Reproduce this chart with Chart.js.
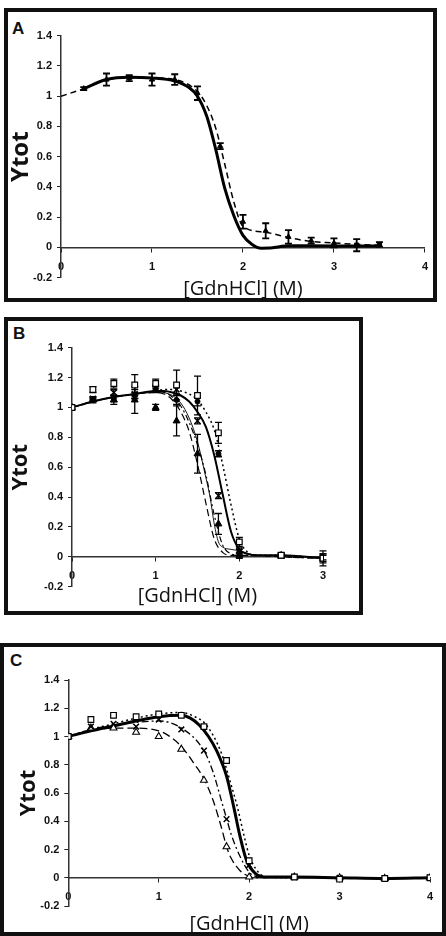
<!DOCTYPE html>
<html><head><meta charset="utf-8">
<script src="https://cdn.jsdelivr.net/npm/chart.js@4.4.1/dist/chart.umd.min.js"></script>
<style>
html,body{margin:0;padding:0;background:#fff;width:446px;height:936px;overflow:hidden;position:relative;}
.box{position:absolute;border:4px solid #111;box-sizing:border-box;}
canvas{position:absolute;}
.lbl{position:absolute;font:bold 17px "Liberation Sans",Arial,sans-serif;color:#111;line-height:19px;}
</style></head><body>
<div class="box" style="left:4px;top:8px;width:433px;height:294px"></div>
<div class="box" style="left:4px;top:317px;width:359px;height:298px"></div>
<div class="box" style="left:0px;top:643px;width:446px;height:293px"></div>
<div class="lbl" style="left:12px;top:19px">A</div>
<div class="lbl" style="left:13px;top:324px">B</div>
<div class="lbl" style="left:10px;top:651px">C</div>
<canvas id="cA" width="433" height="294" style="left:4px;top:8px"></canvas>
<canvas id="cB" width="359" height="298" style="left:4px;top:317px"></canvas>
<canvas id="cC" width="446" height="293" style="left:0px;top:643px"></canvas>
<script>
// ---------- tick labels & titles ----------
const yTickLabels = ['-0.2','0','0.2','0.4','0.6','0.8','1','1.2','1.4'];
const xTickLabelsA = ['0','1','2','3','4'];
const xTickLabelsB = ['0','1','2','3'];
const xTickLabelsC = ['0','1','2','3','4'];
const xTitle = '[GdnHCl] (M)';
const yTitle = 'Ytot';

// ---------- Panel A ----------
const aX   = [0.25,0.5,0.75,1,1.25,1.5,1.75,2,2.25,2.5,2.75,3,3.25,3.5];
const aY   = [1.05,1.11,1.12,1.11,1.11,1.02,0.67,0.17,0.11,0.07,0.045,0.03,0.015,0.02];
const aErr = [0.01,0.04,0.02,0.04,0.035,0.045,0.02,0.045,0.05,0.045,0.02,0.03,0.04,0.015];
const aSolidX = [0.25,0.5,0.75,1.0,1.25,1.4,1.5,1.6,1.7,1.8,1.9,2.0,2.1,2.2,2.3,2.4,2.5,3.0,3.5];
const aSolidY = [1.05,1.11,1.125,1.12,1.1,1.06,1.0,0.87,0.65,0.39,0.21,0.08,0.02,-0.005,-0.004,0.005,0.012,0.01,0.01];
const aDashX = [0,0.25,0.5,0.75,1.0,1.25,1.5,1.6,1.7,1.8,1.9,2.0,2.25,2.5,2.75,3.0,3.25,3.5];
const aDashY = [1.0,1.05,1.11,1.12,1.12,1.11,1.03,0.94,0.79,0.55,0.3,0.14,0.1,0.065,0.04,0.03,0.02,0.015];

// ---------- Panel B ----------
const bPtX   = [0,0.25,0.5,0.75,1,1.25,1.5,1.75,2,2.5,3];
const bSq    = [1.00,1.12,1.16,1.15,1.16,1.15,1.08,0.83,0.10,0.01,-0.01];
const bSqErr = [0,0.02,0.03,0.07,0.03,0.10,0.13,0.07,0.03,0.02,0.05];
const bCross = [1.00,1.06,1.10,1.09,1.13,1.12,0.91,0.41,0.04,0.01,0.00];
const bCrossErr = [0,0.01,0.02,0.03,0.02,0.03,0.02,0.02,0.02,0.01,0.02];
const bTri   = [1.00,1.05,1.05,1.05,1.00,0.91,0.69,0.22,0.01,0.01,-0.01];
const bTriErr = [0,0.02,0.03,0.09,0.02,0.10,0.13,0.07,0.02,0.01,0.03];
const bCirc  = [1.00,1.05,1.06,1.08,1.12,1.05,1.04,0.69,0.03,0.01,-0.01];
const bCircErr = [0,0.01,0.02,0.02,0.02,0.03,0.03,0.02,0.02,0.01,0.02];
const bCurveX  = [0,0.25,0.5,0.75,1.0,1.1,1.2,1.3,1.4,1.5,1.6,1.7,1.8,1.9,2.0,2.1,2.2,2.5,3.0];
const bSolid   = [1.0,1.04,1.07,1.09,1.11,1.11,1.10,1.08,1.04,0.97,0.87,0.68,0.42,0.17,0.05,0.02,0.01,0.01,-0.01];
const bDot     = [1.0,1.04,1.07,1.09,1.11,1.12,1.12,1.11,1.09,1.05,0.97,0.85,0.62,0.35,0.12,0.03,0.01,0.01,-0.01];
const bDashDot = [1.0,1.04,1.07,1.09,1.10,1.10,1.07,1.01,0.90,0.75,0.55,0.28,0.08,0.02,0.01,0.01,0.01,0.0,-0.01];
const bDash    = [1.0,1.04,1.07,1.09,1.10,1.09,1.05,0.97,0.84,0.62,0.36,0.12,0.03,0.01,0.01,0.01,0.01,0.0,-0.01];
const bThinX = [1.0,1.2,1.3,1.4,1.5,1.6,1.65,1.7,1.75,1.8,1.9,2.0,2.1,2.2];
const bThinY = [1.11,1.08,1.03,0.93,0.77,0.53,0.40,0.22,0.10,0.065,0.05,0.04,0.02,0.01];

// ---------- Panel C ----------
const cPtX   = [0,0.25,0.5,0.75,1,1.25,1.5,1.75,2,2.5,3,3.5,4];
const cSq    = [1.0,1.12,1.15,1.14,1.16,1.15,1.07,0.83,0.12,0.005,-0.01,-0.005,0.0];
const cCross = [1.0,1.07,1.09,1.07,1.12,1.05,0.9,0.415,0.09,0.005,0.0,-0.005,0.0];
const cTri   = [1.0,1.06,1.06,1.03,1.0,0.91,0.69,0.22,0.005,0.005,0.0,-0.005,0.0];
const cThickX = [0,0.25,0.5,0.75,1.0,1.25,1.35,1.45,1.55,1.64,1.75,1.83,1.9,1.97,2.07,2.2,2.5,3.0,3.5,4.0];
const cThickY = [1.0,1.04,1.075,1.11,1.14,1.15,1.13,1.08,1.0,0.9,0.72,0.5,0.29,0.125,0.03,0.005,0.005,0.0,-0.005,0.0];
const cDotX = [0,0.25,0.5,0.75,1.0,1.25,1.4,1.5,1.6,1.7,1.8,1.87,1.95,2.0,2.1,2.2,2.5];
const cDotY = [1.0,1.05,1.09,1.13,1.16,1.17,1.14,1.1,1.01,0.87,0.66,0.5,0.28,0.16,0.04,0.005,0.0];
const cDashDotX = [0,0.25,0.5,0.75,1.0,1.25,1.5,1.6,1.7,1.75,1.8,1.9,2.0,2.1,2.2];
const cDashDotY = [1.0,1.05,1.08,1.1,1.11,1.06,0.9,0.75,0.53,0.42,0.31,0.15,0.04,0.005,0.0];
const cDashX = [0,0.25,0.5,0.75,1.0,1.1,1.25,1.4,1.5,1.6,1.7,1.75,1.8,1.9,2.0,2.1];
const cDashY = [1.0,1.04,1.06,1.06,1.04,1.01,0.93,0.8,0.7,0.55,0.34,0.22,0.14,0.05,0.01,0.0];

// ---------- helpers ----------
function pts(xs, ys){ return xs.map((x,i)=>({x:x, y:ys[i]})); }
function curve(xs, ys, width, dash){
  return {data:pts(xs,ys), showLine:true, borderColor:'#000', borderWidth:width, borderDash:dash||[],
          pointRadius:0, pointHoverRadius:0, fill:false, cubicInterpolationMode:'monotone'};
}
function marks(xs, ys, errs, style, fill, r, bw, ew){
  return {data:pts(xs,ys), errors:errs, errWidth:ew||1.3, showLine:false, pointStyle:style, pointRadius:r,
          pointBackgroundColor:fill, pointBorderColor:'#000', pointBorderWidth:bw, borderColor:'#000', backgroundColor:fill};
}
const errorBars = {
  id:'errorBars',
  beforeDatasetsDraw(chart){
    const ctx = chart.ctx, xs = chart.scales.x, ys = chart.scales.y;
    ctx.save(); ctx.strokeStyle = '#000';
    chart.data.datasets.forEach(ds=>{
      if(!ds.errors) return;
      ctx.lineWidth = ds.errWidth;
      ds.data.forEach((p,j)=>{
        const e = ds.errors[j]; if(!e) return;
        const px = xs.getPixelForValue(p.x), t = ys.getPixelForValue(p.y+e), b = ys.getPixelForValue(p.y-e);
        ctx.beginPath();
        ctx.moveTo(px,t); ctx.lineTo(px,b);
        ctx.moveTo(px-3.5,t); ctx.lineTo(px+3.5,t);
        ctx.moveTo(px-3.5,b); ctx.lineTo(px+3.5,b);
        ctx.stroke();
      });
    });
    ctx.restore();
  }
};
const tickFont = {family:'"Liberation Sans", Arial, sans-serif', size:11, weight:'bold'};
function build(id, o){
  return new Chart(document.getElementById(id), {
    type:'scatter',
    data:{datasets:o.datasets},
    options:{
      responsive:false, animation:false, devicePixelRatio:1,
      layout:{padding:o.pad},
      plugins:{legend:{display:false}, tooltip:{enabled:false}},
      scales:{
        x:{type:'linear', min:0, max:o.xmax, position:{y:0},
           ticks:{stepSize:1, callback:(v,i)=>o.xLabels[i], font:tickFont, color:'#111', padding:o.xTickPad, maxRotation:0, autoSkip:false},
           grid:{drawOnChartArea:false, tickLength:4, color:'#222', lineWidth:1},
           border:{color:'#333', width:1.5},
           title:{display:true, text:xTitle, font:{family:'"Open Sans"', size:20, weight:'500', lineHeight:1.2}, color:'#111', padding:{top:o.xTitlePad, bottom:0}}},
        y:{type:'linear', min:-0.2, max:1.4, position:'left',
           ticks:{stepSize:0.2, callback:(v,i)=>yTickLabels[i], font:tickFont, color:'#111', padding:5},
           grid:{drawOnChartArea:false, tickLength:4, color:'#222', lineWidth:1},
           border:{color:'#333', width:1.5},
           title:{display:true, text:yTitle, font:{family:'"Open Sans"', size:o.yTitleSize, weight:'bold', lineHeight:1.2}, color:'#111', padding:{top:o.yTitlePad, bottom:0}},
           afterFit:(s)=>{ s.width = o.yWidth; }}
      }
    },
    plugins:[errorBars]
  });
}

// ---------- charts ----------
build('cA', {
  xmax:4, xLabels:xTickLabelsA, pad:{left:0,right:7,top:27.7,bottom:24.3}, yWidth:57, yTitleSize:24, yTitlePad:2.6, xTickPad:9, xTitlePad:-5,
  datasets:[
    marks(aX, aY, aErr, aX.map((x,i)=> i>=12 ? 'rect' : 'triangle'), '#000', 3, 1, 1.8),
    curve(aSolidX, aSolidY, 3),
    curve(aDashX, aDashY, 1.5, [6,4])
  ]
});
build('cB', {
  xmax:3, xLabels:xTickLabelsB, pad:{left:0,right:40,top:30.7,bottom:28.3}, yWidth:68, yTitleSize:22, yTitlePad:3.3, xTickPad:9, xTitlePad:-8,
  datasets:[
    marks(bPtX, bSq, bSqErr, 'rect', '#fff', 4, 1.2),
    marks(bPtX, bCross, bCrossErr, 'crossRot', '#000', 4, 1.5),
    marks(bPtX, bTri, bTriErr, 'triangle', '#000', 4, 1),
    marks(bPtX, bCirc, bCircErr, 'circle', '#000', 2.5, 1),
    curve(bCurveX, bSolid, 2),
    curve(bCurveX, bDot, 1.5, [2,3]),
    curve(bCurveX, bDashDot, 1.2, [6,3,2,3]),
    curve(bCurveX, bDash, 1.2, [7,4]),
    curve(bThinX, bThinY, 0.9)
  ]
});
build('cC', {
  xmax:4, xLabels:xTickLabelsC, pad:{left:0,right:16,top:37,bottom:30}, yWidth:68.3, yTitleSize:22, yTitlePad:15.1, xTickPad:9, xTitlePad:-1,
  datasets:[
    marks(cPtX, cSq, null, 'rect', '#fff', 4, 1.2),
    marks(cPtX, cCross, null, 'crossRot', '#000', 4, 1.5),
    marks(cPtX, cTri, null, 'triangle', '#fff', 4, 1.1),
    curve(cThickX, cThickY, 3),
    curve(cDotX, cDotY, 1.5, [2,3]),
    curve(cDashDotX, cDashDotY, 1.3, [7,3,2,3]),
    curve(cDashX, cDashY, 1.3, [8,4])
  ]
});
</script>
</body></html>
